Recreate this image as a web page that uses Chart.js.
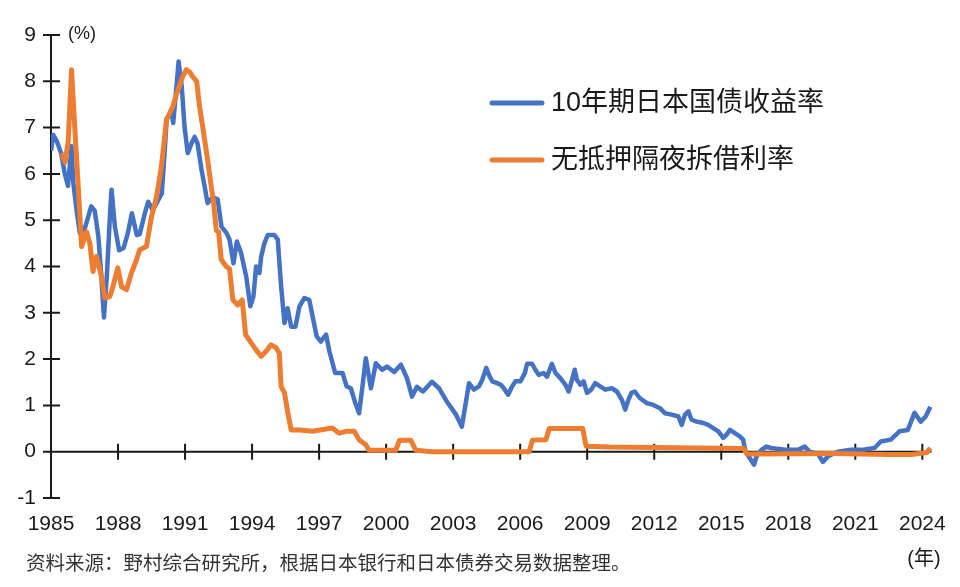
<!DOCTYPE html>
<html>
<head>
<meta charset="utf-8">
<script src="https://cdn.jsdelivr.net/npm/chart.js@4.4.1/dist/chart.umd.min.js"></script>
<style>
    html, body { margin: 0; padding: 0; background: #fff; }
    #wrap { width: 960px; height: 587px; }
</style>
</head>
<body>
<div id="wrap"><canvas id="yieldChart" width="960" height="587"></canvas></div>
<script>
const seriesLabels = ['10年期日本国债收益率', '无抵押隔夜拆借利率'];
const seriesColors = ['#4472C4', '#ED7D31'];
const xTickYears = [1985, 1988, 1991, 1994, 1997, 2000, 2003, 2006, 2009, 2012, 2015, 2018, 2021, 2024];
const yTickValues = [-1, 0, 1, 2, 3, 4, 5, 6, 7, 8, 9];
const unitLabel = '(%)';
const yearLabel = '(年)';
const sourceNote = '资料来源：野村综合研究所，根据日本银行和日本债券交易数据整理。';

// 10-year JGB yield, [year, %]
const jgbYield = [
    [1985.00, 6.50], [1985.10, 6.84], [1985.25, 6.72], [1985.45, 6.45], [1985.62, 6.00], [1985.76, 5.74],
    [1985.92, 6.60], [1986.00, 5.80], [1986.15, 5.20], [1986.29, 4.72], [1986.50, 4.80], [1986.80, 5.30],
    [1986.96, 5.20], [1987.12, 4.65], [1987.25, 3.80], [1987.37, 2.90], [1987.50, 3.80], [1987.65, 5.20],
    [1987.71, 5.66], [1987.86, 4.86], [1988.05, 4.35], [1988.25, 4.40], [1988.44, 4.72], [1988.62, 5.15],
    [1988.84, 4.68], [1988.97, 4.70], [1989.20, 5.15], [1989.35, 5.40], [1989.55, 5.22], [1989.73, 5.37],
    [1989.96, 5.58], [1990.09, 6.50], [1990.18, 7.20], [1990.40, 7.30], [1990.47, 7.10], [1990.63, 7.96],
    [1990.71, 8.43], [1990.85, 7.90], [1990.98, 7.00], [1991.12, 6.45], [1991.29, 6.66], [1991.43, 6.80],
    [1991.56, 6.66], [1991.74, 6.08], [1991.88, 5.72], [1992.01, 5.37], [1992.23, 5.50], [1992.46, 5.45],
    [1992.63, 4.86], [1992.86, 4.72], [1992.99, 4.58], [1993.17, 4.07], [1993.32, 4.54], [1993.51, 4.29],
    [1993.74, 3.78], [1993.92, 3.14], [1994.06, 3.35], [1994.18, 4.00], [1994.33, 3.86], [1994.41, 4.22],
    [1994.55, 4.50], [1994.70, 4.68], [1995.00, 4.68], [1995.15, 4.58], [1995.30, 3.57], [1995.45, 2.78],
    [1995.59, 3.10], [1995.75, 2.70], [1995.94, 2.70], [1996.12, 3.14], [1996.34, 3.32], [1996.56, 3.28],
    [1996.71, 2.92], [1996.89, 2.49], [1997.08, 2.38], [1997.31, 2.53], [1997.46, 2.17], [1997.72, 1.70],
    [1998.05, 1.70], [1998.23, 1.41], [1998.42, 1.37], [1998.62, 1.05], [1998.79, 0.83], [1998.94, 1.41],
    [1999.09, 2.02], [1999.32, 1.37], [1999.54, 1.91], [1999.82, 1.77], [2000.04, 1.84], [2000.36, 1.72],
    [2000.66, 1.88], [2000.94, 1.58], [2001.16, 1.19], [2001.38, 1.40], [2001.65, 1.30], [2002.05, 1.51],
    [2002.37, 1.37], [2002.72, 1.08], [2003.13, 0.80], [2003.39, 0.54], [2003.71, 1.48], [2003.93, 1.34],
    [2004.15, 1.41], [2004.30, 1.55], [2004.48, 1.81], [2004.60, 1.66], [2004.75, 1.52], [2004.97, 1.48],
    [2005.12, 1.45], [2005.27, 1.37], [2005.46, 1.23], [2005.64, 1.41], [2005.79, 1.52], [2006.01, 1.52],
    [2006.21, 1.70], [2006.31, 1.90], [2006.53, 1.90], [2006.68, 1.77], [2006.83, 1.66], [2007.05, 1.70],
    [2007.20, 1.62], [2007.42, 1.90], [2007.58, 1.70], [2007.80, 1.59], [2008.02, 1.45], [2008.17, 1.30],
    [2008.32, 1.55], [2008.44, 1.77], [2008.54, 1.55], [2008.69, 1.45], [2008.84, 1.52], [2008.99, 1.27],
    [2009.18, 1.34], [2009.36, 1.48], [2009.58, 1.41], [2009.81, 1.34], [2010.10, 1.37], [2010.33, 1.30],
    [2010.55, 1.12], [2010.70, 0.91], [2010.82, 1.09], [2010.98, 1.27], [2011.13, 1.30], [2011.35, 1.16],
    [2011.67, 1.05], [2011.96, 1.01], [2012.26, 0.94], [2012.48, 0.83], [2012.78, 0.80], [2013.08, 0.76],
    [2013.23, 0.58], [2013.38, 0.80], [2013.53, 0.87], [2013.67, 0.69], [2013.90, 0.65], [2014.20, 0.62],
    [2014.42, 0.58], [2014.64, 0.51], [2014.87, 0.44], [2015.09, 0.30], [2015.24, 0.37], [2015.39, 0.47],
    [2015.61, 0.40], [2015.83, 0.33], [2015.98, 0.26], [2016.08, 0.01], [2016.28, -0.14], [2016.47, -0.28],
    [2016.58, -0.10], [2016.80, 0.04], [2017.02, 0.11], [2017.23, 0.08], [2017.84, 0.04], [2018.44, 0.04],
    [2018.74, 0.11], [2018.96, 0.00], [2019.33, -0.05], [2019.55, -0.22], [2019.78, -0.10], [2020.22, 0.00],
    [2020.80, 0.04], [2021.42, 0.05], [2021.86, 0.08], [2022.14, 0.22], [2022.59, 0.26], [2022.98, 0.44],
    [2023.35, 0.47], [2023.65, 0.84], [2023.93, 0.65], [2024.15, 0.76], [2024.36, 0.97]
];

// uncollateralized overnight call rate, [year, %]
const callRate = [
    [1985.48, 6.45], [1985.63, 6.25], [1985.77, 6.70], [1985.92, 8.25], [1986.07, 6.95], [1986.21, 5.80],
    [1986.37, 4.43], [1986.59, 4.75], [1986.74, 4.50], [1986.88, 3.89], [1987.04, 4.22], [1987.26, 3.78],
    [1987.41, 3.32], [1987.63, 3.35], [1987.77, 3.56], [1987.99, 3.97], [1988.16, 3.56], [1988.38, 3.50],
    [1988.60, 3.86], [1988.83, 4.15], [1988.97, 4.36], [1989.27, 4.43], [1989.50, 5.08], [1989.72, 5.50],
    [1989.94, 6.15], [1990.17, 7.17], [1990.45, 7.45], [1990.67, 7.80], [1990.89, 8.10], [1991.06, 8.25],
    [1991.21, 8.20], [1991.34, 8.10], [1991.52, 8.00], [1991.65, 7.45], [1991.79, 7.02], [1992.01, 6.30],
    [1992.19, 5.66], [1992.26, 5.45], [1992.40, 4.78], [1992.50, 4.75], [1992.62, 4.15], [1992.84, 4.00],
    [1992.99, 3.95], [1993.14, 3.28], [1993.36, 3.17], [1993.56, 3.28], [1993.71, 2.53], [1993.96, 2.35],
    [1994.18, 2.20], [1994.41, 2.06], [1994.63, 2.17], [1994.85, 2.31], [1995.08, 2.24], [1995.22, 2.13],
    [1995.30, 1.41], [1995.45, 1.27], [1995.59, 0.87], [1995.75, 0.47], [1996.12, 0.47], [1996.70, 0.44],
    [1997.59, 0.51], [1997.90, 0.40], [1998.20, 0.44], [1998.57, 0.44], [1998.79, 0.26], [1999.09, 0.15],
    [1999.24, 0.03], [2000.43, 0.03], [2000.60, 0.25], [2001.10, 0.25], [2001.33, 0.03], [2002.05, 0.00],
    [2006.40, 0.00], [2006.55, 0.25], [2007.15, 0.26], [2007.30, 0.50], [2008.80, 0.50], [2008.95, 0.12],
    [2010.00, 0.10], [2016.00, 0.07], [2016.15, -0.05], [2020.00, -0.04], [2022.50, -0.06], [2023.50, -0.06],
    [2024.20, -0.02], [2024.36, 0.08]
];

const fontFamily = "'Liberation Sans', 'Noto Sans CJK SC', sans-serif";
const inkColor = '#1a1a1a';

function toPoints(rows) {
    return rows.map(r => ({ x: r[0], y: r[1] }));
}

// axis lines crossing at zero, ticks drawn on both sides
const crossAxes = {
    id: 'crossAxes',
    beforeDatasetsDraw(chart) {
        const ctx = chart.ctx;
        const xs = chart.scales.x;
        const ys = chart.scales.y;
        const x0 = xs.getPixelForValue(xs.min);
        const y0 = ys.getPixelForValue(0);
        ctx.save();
        ctx.strokeStyle = inkColor;
        ctx.lineWidth = 2;
        ctx.beginPath();
        ctx.moveTo(x0, ys.getPixelForValue(ys.max) - 1);
        ctx.lineTo(x0, ys.getPixelForValue(ys.min));
        ys.ticks.forEach(t => {
            const py = ys.getPixelForValue(t.value);
            ctx.moveTo(x0 - 8, py);
            ctx.lineTo(x0 + 9, py);
        });
        ctx.moveTo(x0, y0);
        ctx.lineTo(xs.getPixelForValue(xs.max) - 2, y0);
        xs.ticks.forEach(t => {
            if (t.value === xs.min) return;
            const px = xs.getPixelForValue(t.value);
            ctx.moveTo(px, y0 - 8);
            ctx.lineTo(px, y0 + 8);
        });
        ctx.stroke();
        ctx.restore();
    }
};

const notes = {
    id: 'notes',
    afterDraw(chart) {
        const ctx = chart.ctx;
        ctx.save();
        ctx.fillStyle = inkColor;
        ctx.textBaseline = 'middle';
        ctx.textAlign = 'left';
        ctx.font = '18px ' + fontFamily;
        ctx.fillText(unitLabel, 68, 34);
        ctx.font = '20px ' + fontFamily;
        ctx.textAlign = 'center';
        ctx.fillText(yearLabel, 924, 559);
        ctx.textAlign = 'left';
        ctx.fillStyle = '#333';
        ctx.font = '19.5px ' + fontFamily;
        ctx.fillText(sourceNote, 26, 565);

        // legend
        const rows = [103, 160];
        chart.data.datasets.forEach((ds, i) => {
            const y = rows[i];
            ctx.strokeStyle = ds.borderColor;
            ctx.lineWidth = 5;
            ctx.lineCap = 'round';
            ctx.beginPath();
            ctx.moveTo(492, y);
            ctx.lineTo(542, y);
            ctx.stroke();
            ctx.fillStyle = inkColor;
            ctx.font = '27px ' + fontFamily;
            ctx.fillText(ds.label, 551, y + 1);
        });
        ctx.restore();
    }
};

new Chart(document.getElementById('yieldChart').getContext('2d'), {
    type: 'line',
    data: {
        datasets: [
            {
                label: seriesLabels[0],
                data: toPoints(jgbYield),
                borderColor: seriesColors[0],
                borderWidth: 4.5,
                pointRadius: 0,
                tension: 0,
                borderJoinStyle: 'round',
                order: 1
            },
            {
                label: seriesLabels[1],
                data: toPoints(callRate),
                borderColor: seriesColors[1],
                borderWidth: 5,
                pointRadius: 0,
                tension: 0,
                borderJoinStyle: 'round',
                order: 0
            }
        ]
    },
    options: {
        responsive: false,
        animation: false,
        layout: {
            padding: { top: 35, right: 25, left: 0, bottom: 0 }
        },
        scales: {
            x: {
                type: 'linear',
                min: 1985,
                max: 2024.5,
                grid: { display: false, drawTicks: false },
                border: { display: false },
                afterBuildTicks: scale => {
                    scale.ticks = xTickYears.map(v => ({ value: v }));
                },
                afterFit: scale => { scale.height = 89; },
                ticks: {
                    autoSkip: false,
                    maxRotation: 0,
                    padding: 14,
                    color: inkColor,
                    font: { family: fontFamily, size: 21 },
                    callback: v => String(v)
                }
            },
            y: {
                min: -1,
                max: 9,
                grid: { display: false, drawTicks: false },
                border: { display: false },
                afterBuildTicks: scale => {
                    scale.ticks = yTickValues.map(v => ({ value: v }));
                },
                afterFit: scale => { scale.width = 51; },
                ticks: {
                    padding: 15,
                    color: inkColor,
                    font: { family: fontFamily, size: 21 },
                    callback: v => String(v)
                }
            }
        },
        plugins: {
            legend: { display: false },
            tooltip: { enabled: false }
        }
    },
    plugins: [crossAxes, notes]
});
</script>
</body>
</html>
